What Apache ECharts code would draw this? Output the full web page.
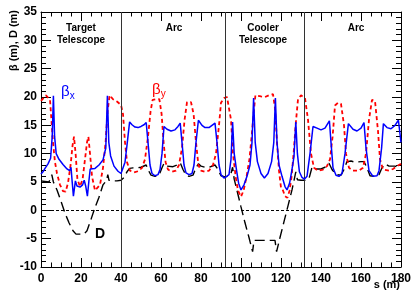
<!DOCTYPE html>
<html>
<head>
<meta charset="utf-8">
<script src="https://cdn.jsdelivr.net/npm/echarts@6/dist/echarts.min.js"></script>
<style>
html,body{margin:0;padding:0;background:#fff;}
#c{width:415px;height:298px;}
</style>
</head>
<body>
<div id="c"></div>
<script>
// ---- data (s in m) ----
const sBx = [0,1,2,3.5,4.8,5.6,6.2,6.8,7.6,9,11,13,14.3,15,15.6,16.2,17.2,18,19.5,20.8,21.6,22.4,23.2,23.9,24.6,25.5,27,29,31,32.4,33.2,33.9,34.8,36.5,38.5,40,
  41,42,43,44.3,45.5,47,48.5,50,51.5,52.6,53.5,54.5,55.5,57,58.5,59.5,60.5,61.5,63,65,67,68.5,69.6,70.5,71.5,72.5,74,75.5,76.5,77.5,78.7,80.5,82,84,85.5,87,88,89,90,91.5,92.8,
  94,95,95.8,96.6,97.8,98.8,100,101.5,103,104.5,105.5,106.3,107.1,108.2,110,111.7,113.5,115.3,116.4,117.2,118,119,120.5,122,123,124.3,125.4,126.5,127.4,128.2,129.2,130.5,131.7,
  133,134.5,136,138,140,142,144.2,145,146,147.5,149,150.5,152,153.7,156,158,160,161.5,162.5,164,166,168,169,170.3,171.2,173,175,177,178.7,180];
const betaX = [6.4,6.8,7.4,8.2,9.2,13,20.2,13,10,9,8.1,7.3,7.0,7.6,5,2.5,5.2,4.3,4.1,4.5,5.3,4.2,2.5,5,7.3,7.1,7.4,8,8.9,11,20.2,12,9.6,7.8,6.9,6.5,
  6.8,8.5,11.5,15.6,15.1,14.7,14.6,14.8,15.1,15.5,12,8,6.5,6.1,6.3,7.2,10,14.8,14.3,14,14.2,14.8,15.4,12,8,6.6,6.3,6.5,8,12,15.9,15,14.6,14.6,15,15.4,12,8,6.3,5.7,6,
  6.3,9,15.6,10,7,4.8,3.6,4.5,6,8,12,19.8,12,8.6,6.5,5.7,6.5,8.6,12,19.8,12,8,6,4.2,3.6,4.8,7,9.5,15.6,10,6.8,5.8,5.5,
  6,10,14.8,14.5,14.2,14.5,15.8,12,7.5,6.2,6,6.5,10,15.3,14.3,14,14.5,15.5,11,7,6,6.1,7,11,15.3,14.6,14.4,15,15.9,12];

const sBy = [0,1,2.5,3.5,4.5,5.2,6,7,8,9.5,11,12.3,13.5,14.8,15.8,16.5,17.3,18.2,19.5,20.8,22,23,23.7,24.5,25.5,27,28,29.5,31,32.3,33.3,34.3,36,38,40,
  41,42,43,44.5,46.5,48.5,50.5,52,53.5,54.8,55.8,57.5,59.2,60.3,61.3,62.3,63.5,65.5,67.5,69,70.5,71.8,73,75,76.3,77.5,78.7,80,82,84,86,87.5,89,90,91.5,93,94,
  95,96,97.3,98.5,100,101.3,102.8,104.2,105.3,106.3,107.2,108.5,110,112,114,116,117,118,119,120,121,122,123.2,124.3,125.3,126.3,127.3,128.5,130,132,
  133.5,135,136.5,138.5,141,143,144.5,145.8,147,148.5,150,151.5,152.5,154,156,159,161,162.5,164,165.5,167,168.5,169.5,171,174,176,178,180];
const betaY = [19.3,19.7,20.3,20.3,19.5,16,12,8.5,6.5,4.5,3.4,3.3,4.8,8,11.5,13,10,5.5,4.2,5.5,9,12,13,10,6,3.5,3.3,4.5,7.5,12,17.5,20.3,19.6,19.2,18.6,
  17,12,8.5,7,6.7,6.9,7.5,9,13,17.5,19.5,19.6,19.6,17,12,8.5,7.2,6.8,7,8,11,16,19.1,19.1,17,12,8,7,6.8,7,8,10,15,19,19.8,20,19.8,
  16,10,6,3.5,2.4,3.5,6,9,13,17,20.3,20.2,20.1,20,20.3,20.5,18,12,7,4,3.5,2.5,2.2,3.5,6,10,15,19.6,20.3,19.8,
  16,10,7.5,7,7.2,7.8,9,13,18.5,19,18.8,15,10,7.5,7,7,7.5,10,16,19.5,19.3,14,9,7.2,7,7.3,7.8,8.2];

const sD = [0,2,4,4.8,5.4,6.2,8,10,12,14,16,17.5,21.5,23,25,27,29,31,32.8,33.4,34,36,38,40,
  41.5,43,44.3,46,48,50,52.6,53.5,55,57,59,60.5,61.5,63,66,68,69.6,71,72.5,74,76,77.5,78.7,80,82,84,87,88.5,90,92,
  93.5,95,95.8,96.6,98,100,102,104,105.8,106.5,111,113,117,117.8,119.5,121.5,123.5,125.5,127.4,128.2,130,132,
  134,135.5,137,140,142,144,145.5,147.5,150,151.5,153,155,157,160,161.5,163,164.5,167,169,170.5,172,174,177,180];
const dispD = [5.2,5.1,5,5.3,6.3,5,3.6,1.6,-0.5,-2.2,-3.6,-4.2,-4.2,-3.6,-1.6,0.5,2.3,4.5,5.3,6.3,5.3,5.2,5.2,5.3,
  5.8,6.8,7.4,7.5,7.5,7.6,8,7.2,6.2,6,6.2,7.5,8.3,7.8,7.7,8,8.4,7.2,6.2,6,6.2,7.5,8.2,7.8,7.6,7.6,8,7.2,6.1,5.9,
  6,6.5,7.6,5.5,3.5,0.6,-2.2,-4.8,-7.3,-5.3,-5.3,-5.3,-5.3,-7.3,-4.8,-2,0.8,3.6,6.8,5.4,5.3,5.3,
  5.6,7.6,7.3,7.3,7.6,8.3,7.2,6.3,6.2,7.2,8.6,8.7,8.5,8.6,8.6,7.5,6.1,6,6.3,7.5,8.2,7.8,7.8,7.4];

const sectionEdges = [40, 92, 131.7];
const xTicks = {min:0, max:180, step:20};
const yTicks = {min:-10, max:35, step:5};

const zip = (xs, ys) => xs.map((x,i)=>[x, ys[i]]);

const chart = echarts.init(document.getElementById('c'), null, {renderer:'canvas'});
const FONT = '"Liberation Sans", Arial, Helvetica, sans-serif';
const axisBase = {
  type:'value',
  axisLine:{show:true, onZero:false, lineStyle:{color:'#000', width:1}},
  splitLine:{show:false},
};
function txt(x, y, s, size, color, align) {
  return {type:'text', x:x, y:y, silent:true,
    style:{text:s, font:'bold '+size+'px '+FONT, fill:color||'#000', align:align||'center', verticalAlign:'middle'}};
}
const option = {
  animation:false,
  backgroundColor:'#fff',
  grid:{left:41, right:14, top:12, bottom:31, outerBoundsMode:'none'},
  xAxis:[
    Object.assign({}, axisBase, {
      position:'bottom', min:xTicks.min, max:xTicks.max, interval:xTicks.step,
      axisTick:{show:true, inside:true, length:9, lineStyle:{color:'#000'}},
      minorTick:{show:true, splitNumber:4, length:4.5, lineStyle:{color:'#000'}},
      axisLabel:{show:true, margin:6, color:'#000', fontFamily:FONT, fontWeight:'bold', fontSize:12}
    }),
    Object.assign({}, axisBase, {
      position:'top', min:xTicks.min, max:xTicks.max, interval:xTicks.step,
      axisTick:{show:true, inside:true, length:9, lineStyle:{color:'#000'}},
      minorTick:{show:true, splitNumber:4, length:4.5, lineStyle:{color:'#000'}},
      axisLabel:{show:false}
    })
  ],
  yAxis:[
    Object.assign({}, axisBase, {
      position:'left', min:yTicks.min, max:yTicks.max, interval:yTicks.step,
      axisTick:{show:true, inside:true, length:10, lineStyle:{color:'#000'}},
      minorTick:{show:true, splitNumber:5, length:5, lineStyle:{color:'#000'}},
      axisLabel:{show:true, margin:4, color:'#000', fontFamily:FONT, fontWeight:'bold', fontSize:12}
    }),
    Object.assign({}, axisBase, {
      position:'right', min:yTicks.min, max:yTicks.max, interval:yTicks.step,
      axisTick:{show:true, inside:true, length:9, lineStyle:{color:'#000'}},
      minorTick:{show:true, splitNumber:5, length:5, lineStyle:{color:'#000'}},
      axisLabel:{show:false}
    })
  ],
  series:[
    {
      type:'line', name:'D', data:zip(sD, dispD), symbol:'none', z:3,
      lineStyle:{color:'#000', width:1.4, type:[10,5]},
      markLine:{
        silent:true, symbol:'none', label:{show:false},
        data:[
          {yAxis:0, lineStyle:{color:'#000', width:1, type:[3,2]}},
          ...sectionEdges.map(v=>({xAxis:v, lineStyle:{color:'#333', width:1, type:'solid'}}))
        ]
      }
    },
    {
      type:'line', name:'betaY', data:zip(sBy, betaY), symbol:'none', z:4,
      lineStyle:{color:'#ff0000', width:1.8, type:[4,3]}
    },
    {
      type:'line', name:'betaX', data:zip(sBx, betaX), symbol:'none', z:5,
      lineStyle:{color:'#0000ff', width:1.5}
    }
  ],
  graphic:[
    txt(81, 28, 'Target', 10),
    txt(81, 40, 'Telescope', 10),
    txt(174, 28, 'Arc', 10),
    txt(263, 28, 'Cooler', 10),
    txt(263, 40, 'Telescope', 10),
    txt(356, 28, 'Arc', 10),
    {type:'text', x:61, y:83, silent:true, style:{text:'{b|β}{s|x}', rich:{b:{fontFamily:FONT, fontSize:15, fill:'#0000ff'}, s:{fontFamily:FONT, fontSize:10, fill:'#0000ff', padding:[8,0,0,0]}}}},
    {type:'text', x:152, y:81, silent:true, style:{text:'{b|β}{s|y}', rich:{b:{fontFamily:FONT, fontSize:15, fill:'#ff0000'}, s:{fontFamily:FONT, fontSize:10, fill:'#ff0000', padding:[8,0,0,0]}}}},
    txt(100, 234, 'D', 14),
    {type:'text', x:14, y:10, rotation:Math.PI/2, silent:true, style:{text:'β (m), D (m)', font:'bold 11px '+FONT, fill:'#000', align:'right', verticalAlign:'middle'}},
    txt(400, 285, 's (m)', 11, '#000', 'right')
  ]
};
chart.setOption(option);
</script>
</body>
</html>
